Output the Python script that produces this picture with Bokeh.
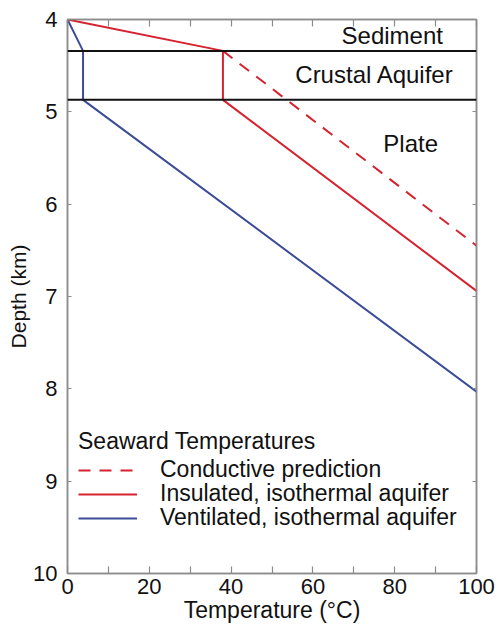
from bokeh.plotting import figure
from bokeh.models import Range1d, FixedTicker, LinearAxis, Span, Legend, LegendItem
from bokeh.core.properties import value
from bokeh.embed import file_html
from bokeh.resources import INLINE

# Layer boundaries (depth, km)
sediment_base = 4.34
aquifer_base = 4.87

# Temperature profiles (temperature in °C, depth in km)
conductive_temp = [38.0, 100.0]
conductive_depth = [4.34, 6.45]

insulated_temp = [0.0, 38.0, 38.0, 100.0]
insulated_depth = [4.0, 4.34, 4.87, 6.94]

ventilated_temp = [0.0, 3.8, 3.8, 100.0]
ventilated_depth = [4.0, 4.34, 4.87, 8.03]

# Layer names and where they are written
layer_names = ["Sediment", "Crustal Aquifer", "Plate"]
layer_label_x = [79.4, 75.1, 83.9]
layer_label_y = [4.17, 4.60, 5.345]

x_ticks = [0, 20, 40, 60, 80, 100]
x_minor = [10, 30, 50, 70, 90]
y_ticks = [4, 5, 6, 7, 8, 9, 10]

FONT = "Liberation Sans"
RED = "#d6222e"
BLUE = "#3c4c98"
FRAME = "#8c8c8c"

p = figure(width=499, height=626,
           x_range=Range1d(0, 100), y_range=Range1d(10, 4),
           output_backend="svg", toolbar_location=None,
           min_border_left=67, min_border_right=23,
           min_border_top=19, min_border_bottom=53)

p.xgrid.visible = False
p.ygrid.visible = False
p.outline_line_color = FRAME
p.outline_line_width = 1.5

def style_axis(ax, tick_len):
    ax.axis_line_color = FRAME
    ax.axis_line_width = 1.5
    ax.major_tick_line_color = FRAME
    ax.minor_tick_line_color = FRAME
    ax.major_tick_line_width = 1.2
    ax.minor_tick_line_width = 1.2
    ax.major_tick_in = tick_len
    ax.major_tick_out = 0
    ax.minor_tick_in = tick_len
    ax.minor_tick_out = 0
    ax.major_label_text_font = FONT
    ax.major_label_text_font_size = "22px"
    ax.major_label_text_color = "#111111"
    ax.axis_label_text_font = FONT
    ax.axis_label_text_font_size = "23px"
    ax.axis_label_text_font_style = "normal"
    ax.axis_label_text_color = "#111111"

xt = FixedTicker(ticks=x_ticks, minor_ticks=x_minor)
yt = FixedTicker(ticks=y_ticks)

p.xaxis.ticker = xt
p.yaxis.ticker = yt
style_axis(p.xaxis[0], 7)
style_axis(p.yaxis[0], 4)
p.xaxis.axis_label = "Temperature (°C)"
p.yaxis.axis_label = "Depth (km)"
p.yaxis.axis_label_text_font_size = "21px"
p.xaxis.major_label_standoff = 5
p.xaxis.axis_label_standoff = 0
p.yaxis.major_label_standoff = 10
p.yaxis.axis_label_standoff = 0

# tick marks on the top and right edges, without labels
top = LinearAxis(ticker=FixedTicker(ticks=x_ticks, minor_ticks=x_minor))
right = LinearAxis(ticker=FixedTicker(ticks=y_ticks))
style_axis(top, 7)
style_axis(right, 4)
for ax in (top, right):
    ax.major_label_text_font_size = "1px"
    ax.major_label_text_color = None
    ax.major_label_standoff = 0
    ax.axis_label = None
p.add_layout(top, "above")
p.add_layout(right, "right")

# layer boundaries
for d in (sediment_base, aquifer_base):
    p.add_layout(Span(location=d, dimension="width", line_color="#111111", line_width=2))

r_cond = p.line(conductive_temp, conductive_depth, line_color=RED, line_width=2,
                line_dash="12 9")
r_ins = p.line(insulated_temp, insulated_depth, line_color=RED, line_width=2)
r_ven = p.line(ventilated_temp, ventilated_depth, line_color=BLUE, line_width=2)

p.text(x=layer_label_x, y=layer_label_y, text=layer_names,
       text_font=value(FONT), text_font_size="24px", text_color="#111111",
       text_align="center", text_baseline="alphabetic")

# the key is split into one box per row so the rows sit closer together
legend_rows = [
    ("Conductive prediction", r_cond, 90, "Seaward Temperatures"),
    ("Insulated, isothermal aquifer", r_ins, 66, None),
    ("Ventilated, isothermal aquifer", r_ven, 42, None),
]
for label, rend, y_off, title in legend_rows:
    lg = Legend(
        items=[LegendItem(label=label, renderers=[rend])],
        location=(11, y_off),
        label_text_font=FONT, label_text_font_size="23px", label_text_color="#111111",
        glyph_width=59, glyph_height=20, label_height=20, label_standoff=23,
        spacing=0, padding=0, margin=0,
        border_line_color=None, background_fill_alpha=0,
    )
    if title:
        lg.title = title
        lg.title_text_font = FONT
        lg.title_text_font_size = "23px"
        lg.title_text_font_style = "normal"
        lg.title_text_color = "#111111"
        lg.title_standoff = 1
    p.add_layout(lg)

open("out.html", "w").write(file_html(p, INLINE))
